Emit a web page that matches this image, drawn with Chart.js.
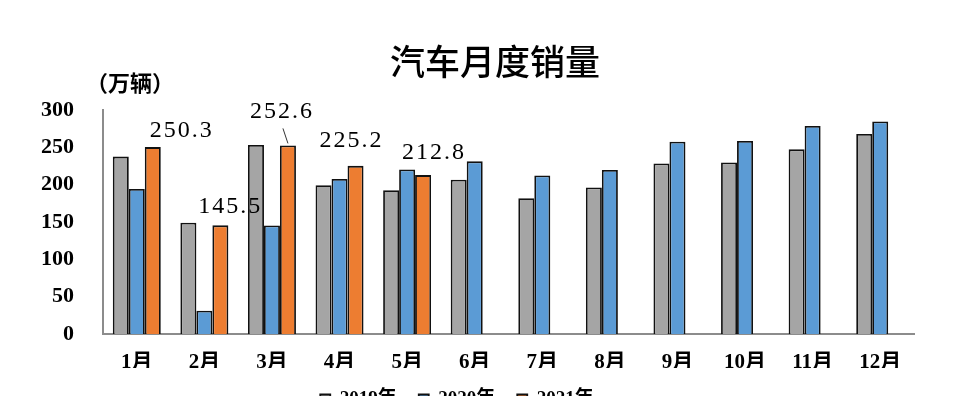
<!DOCTYPE html>
<html>
<head>
<meta charset="utf-8">
<script src="https://cdn.jsdelivr.net/npm/chart.js@4.4.0/dist/chart.umd.min.js"></script>
<style>
  html, body { margin: 0; padding: 0; background: #fff; overflow: hidden; }
  #wrap { position: relative; width: 962px; height: 419px; }
</style>
</head>
<body>
<div id="wrap"><canvas id="chart"></canvas></div>
<script>
// --- datos ---
const months = ['1月', '2月', '3月', '4月', '5月', '6月', '7月', '8月', '9月', '10月', '11月', '12月'];
const sales2019 = [237.6, 148.9, 253.2, 199.2, 192.5, 206.7, 181.8, 196.3, 228.5, 229.8, 247.3, 267.8];
const sales2020 = [194.3, 31.2, 145.4, 207.6, 220.4, 231.2, 212.2, 219.6, 257.5, 258.5, 278.5, 284.5];
const sales2021 = [250.3, 145.5, 252.6, 225.2, 212.8, null, null, null, null, null, null, null];
const yTicks = [0, 50, 100, 150, 200, 250, 300];
const chartTitle = '汽车月度销量';
const unitLabel = '（万辆）';

const numFont = '"Liberation Serif", "Noto Sans CJK SC", serif';

// etiquetas de valor para 2021 (dx, dy relativos a la barra)
const labelOffsets = [
    { dx: 29, dy: -16 },
    { dx: 10, dy: -19 },
    { dx: -6, dy: -34, leader: true },
    { dx: -4, dy: -25 },
    { dx: 11, dy: -22 }
];

const overlayPlugin = {
    id: 'overlay',
    afterDatasetsDraw(chart) {
        const ctx = chart.ctx;
        ctx.save();
        // título
        ctx.fillStyle = '#000';
        ctx.textAlign = 'center';
        ctx.textBaseline = 'middle';
        ctx.font = '500 35px "Noto Sans CJK SC", sans-serif';
        ctx.fillText(chartTitle, 495, 62);
        // unidad
        ctx.textAlign = 'left';
        ctx.font = 'bold 22px "Noto Sans CJK SC", sans-serif';
        ctx.fillText(unitLabel, 86, 83);

        // valores 2021
        const meta = chart.getDatasetMeta(2);
        ctx.font = '24px ' + numFont;
        ctx.letterSpacing = '2px';
        ctx.textAlign = 'center';
        meta.data.forEach((bar, i) => {
            const v = sales2021[i];
            if (v == null) return;
            const off = labelOffsets[i];
            const x = bar.x + off.dx;
            const y = bar.y + off.dy;
            ctx.fillStyle = '#000';
            ctx.fillText(v.toFixed(1), x, y);
            if (off.leader) {
                ctx.strokeStyle = '#333';
                ctx.lineWidth = 1;
                ctx.beginPath();
                ctx.moveTo(bar.x - 5, y + 17);
                ctx.lineTo(bar.x, bar.y - 2);
                ctx.stroke();
            }
        });
        ctx.restore();
    }
};

const ds = (label, data, color) => ({
    label,
    data,
    backgroundColor: color,
    borderColor: '#111',
    borderWidth: 1.8,
    categoryPercentage: 0.71,
    barPercentage: 1
});

new Chart(document.getElementById('chart'), {
    type: 'bar',
    data: {
        labels: months,
        datasets: [
            ds('2019年', sales2019, '#A5A5A5'),
            ds('2020年', sales2020, '#5B9BD5'),
            ds('2021年', sales2021, '#ED7D31')
        ]
    },
    options: {
        responsive: true,
        maintainAspectRatio: false,
        animation: false,
        layout: { padding: { top: 110, right: 48, left: 0, bottom: 0 } },
        plugins: {
            title: { display: false },
            tooltip: { enabled: false },
            legend: {
                position: 'bottom',
                labels: {
                    boxWidth: 10,
                    boxHeight: 10,
                    padding: 22,
                    color: '#000',
                    font: { family: numFont, size: 19, weight: 'bold' }
                }
            }
        },
        scales: {
            x: {
                grid: { display: false, drawTicks: false },
                border: { color: '#8c8c8c', width: 2 },
                ticks: {
                    color: '#000',
                    padding: 16,
                    font: { family: numFont, size: 21, weight: 'bold' }
                },
                afterFit(axis) { axis.height = 34; }
            },
            y: {
                min: 0,
                max: 300,
                afterBuildTicks(axis) { axis.ticks = yTicks.map(v => ({ value: v })); },
                grid: { display: false, drawTicks: false },
                border: { color: '#8c8c8c', width: 2 },
                ticks: {
                    color: '#000',
                    padding: 29,
                    font: { family: numFont, size: 22, weight: 'bold' }
                },
                afterFit(axis) { axis.width = 103; }
            }
        }
    },
    plugins: [overlayPlugin]
});
</script>
</body>
</html>
